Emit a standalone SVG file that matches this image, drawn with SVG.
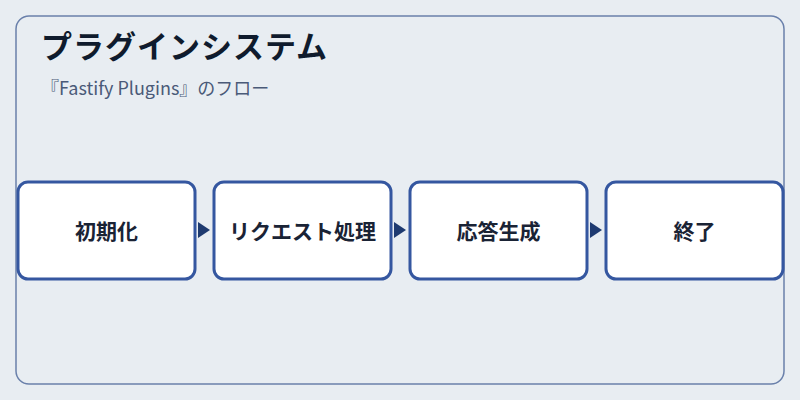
<svg xmlns="http://www.w3.org/2000/svg" width="800" height="400" viewBox="0 0 800 400">
<defs>
<style>
.frame{fill:#e8edf2;stroke:#6a80ab;stroke-width:1.5}
.node{fill:#ffffff;stroke:#3557a0;stroke-width:3}
.lbl{font-family:"Noto Sans CJK JP","Noto Sans",sans-serif;font-size:21px;font-weight:700;fill:#1a2335;text-anchor:middle}
.title{font-family:"Noto Sans CJK JP","Noto Sans",sans-serif;font-size:31px;font-weight:700;fill:#0f1b2d;letter-spacing:1px}
.sub{font-family:"Noto Sans CJK JP","Noto Sans",sans-serif;font-size:18px;fill:#4a5a78}
.arr{fill:#1e3a70}
</style>
</defs>
<rect width="800" height="400" fill="#e8edf2"/>
<rect class="frame" x="16" y="16" width="768" height="368" rx="13"/>
<text class="title" x="41" y="58">プラグインシステム</text>
<text class="sub" x="41" y="95">『Fastify Plugins』のフロー</text>
<g id="connectors">
<path d="M198,222 L210,230 L198,238 Z" class="arr"/>
<path d="M394,222 L406,230 L394,238 Z" class="arr"/>
<path d="M590,222 L602,230 L590,238 Z" class="arr"/>
</g>
<g id="node1">
<rect class="node" x="18" y="182" width="177" height="97" rx="10"/>
<text class="lbl" x="106.5" y="239">初期化</text>
</g>
<g id="node2">
<rect class="node" x="214" y="182" width="177" height="97" rx="10"/>
<text class="lbl" x="302.5" y="239">リクエスト処理</text>
</g>
<g id="node3">
<rect class="node" x="410" y="182" width="177" height="97" rx="10"/>
<text class="lbl" x="498.5" y="239">応答生成</text>
</g>
<g id="node4">
<rect class="node" x="606" y="182" width="177" height="97" rx="10"/>
<text class="lbl" x="694.5" y="239">終了</text>
</g>
</svg>
